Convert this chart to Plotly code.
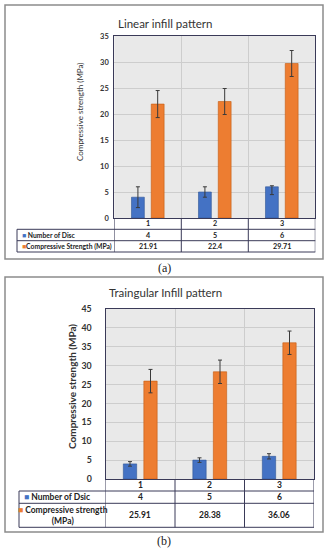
import plotly.graph_objects as go

# ---------------- data ----------------
categories = ["1", "2", "3"]

a_title = "Linear infill pattern"
a_discs = [4, 5, 6]
a_disc_err_plus = [2, 1, 0.2]
a_disc_err_minus = [2, 1, 1.5]
a_strength = [21.91, 22.4, 29.71]
a_strength_err = [2.6, 2.5, 2.5]
a_ticks = [0, 5, 10, 15, 20, 25, 30, 35]
a_row_labels = ["Number of Disc", "Compressive Strength (MPa)"]

b_title = "Traingular Infill pattern"
b_discs = [4, 5, 6]
b_disc_err = [0.6, 0.6, 0.7]
b_strength = [25.91, 28.38, 36.06]
b_strength_err = [3.1, 3.1, 3.1]
b_ticks = [0, 5, 10, 15, 20, 25, 30, 35, 40, 45]
b_row_labels = ["Number of Dsic", "Compressive strength<br>(MPa)"]

y_title = "Compressive strength (MPa)"

# ---------------- styling ----------------
W, H = 328, 550
BLUE = "#4472C4"
ORANGE = "#ED7D31"
LINE = "#3a3a58"
GRID = "#cdcdcd"
FONT = "Lato"


def px(x):
    return x / W


def py(y):
    return 1 - y / H


fig = go.Figure()

err_style = dict(color="#3a3a3a", thickness=1, width=2)

# chart (a)
fig.add_trace(go.Bar(x=categories, y=a_discs, xaxis="x", yaxis="y",
                     marker=dict(color=BLUE, line=dict(color="#2f5597", width=0.6)),
                     error_y=dict(type="data", symmetric=False, array=a_disc_err_plus,
                                  arrayminus=a_disc_err_minus, **err_style),
                     showlegend=False))
fig.add_trace(go.Bar(x=categories, y=a_strength, xaxis="x", yaxis="y",
                     marker=dict(color=ORANGE, line=dict(color="#c55a11", width=0.6)),
                     error_y=dict(type="data", array=a_strength_err, **err_style),
                     showlegend=False))
# chart (b)
fig.add_trace(go.Bar(x=categories, y=b_discs, xaxis="x2", yaxis="y2",
                     marker=dict(color=BLUE, line=dict(color="#2f5597", width=0.6)),
                     error_y=dict(type="data", array=b_disc_err, **err_style),
                     showlegend=False))
fig.add_trace(go.Bar(x=categories, y=b_strength, xaxis="x2", yaxis="y2",
                     marker=dict(color=ORANGE, line=dict(color="#c55a11", width=0.6)),
                     error_y=dict(type="data", array=b_strength_err, **err_style),
                     showlegend=False))

# geometry (pixels)
A = dict(left=114.3, right=315.3, top=36, bottom=218, rows=[229.3, 240.7, 252],
         tleft=17, frame=(5, 5, 323, 259), ytitle_x=80, ytitle_y=112, title_y=23,
         caption_y=268, font=7.2, lfont=6.8, tick=7.5, ytf=8, standoff=3)
B = dict(left=105.5, right=314, top=309, bottom=479, rows=[491, 503.3, 527.3],
         tleft=19, frame=(5, 277, 323, 532), ytitle_x=72, ytitle_y=387, title_y=292,
         caption_y=541, font=8.5, lfont=8.5, tick=8.8, ytf=10, standoff=11)

n_cat = len(categories)
common_x = dict(type="category", categoryorder="array", categoryarray=categories,
                range=[-0.5, n_cat - 0.5],
                showgrid=True, gridcolor=GRID, gridwidth=1,
                tickson="boundaries", showticklabels=False, ticks="",
                showline=True, linecolor=LINE, linewidth=1, mirror=True,
                fixedrange=True)
common_y = dict(showgrid=True, gridcolor=GRID, gridwidth=1, ticks="",
                showline=True, linecolor=LINE, linewidth=1, mirror=True,
                zeroline=False, fixedrange=True, automargin=False)

fig.update_layout(
    width=W, height=H, autosize=False,
    margin=dict(l=0, r=0, t=0, b=0, pad=0),
    paper_bgcolor="white",
    plot_bgcolor="#e9e9e9",
    barmode="group",
    bargap=0.41,
    bargroupgap=0.35,
    font=dict(family=FONT, color="#222"),
    xaxis=dict(domain=[px(A["left"]), px(A["right"])], anchor="y", **common_x),
    yaxis=dict(domain=[py(A["bottom"]), py(A["top"])], anchor="x", range=[0, 35],
               tickvals=a_ticks, ticktext=[f"<b>{t}</b>" for t in a_ticks],
               tickfont=dict(size=A["tick"], family=FONT, color="#333"),
               ticklabelstandoff=A["standoff"], **common_y),
    xaxis2=dict(domain=[px(B["left"]), px(B["right"])], anchor="y2", **common_x),
    yaxis2=dict(domain=[py(B["bottom"]), py(B["top"])], anchor="x2", range=[0, 45],
                tickvals=b_ticks, ticktext=[f"<b>{t}</b>" for t in b_ticks],
                tickfont=dict(size=B["tick"], family=FONT, color="#333"),
                ticklabelstandoff=B["standoff"], **common_y),
)

shapes = []
annotations = []


def ann(**kw):
    kw.setdefault("showarrow", False)
    kw.setdefault("xanchor", "center")
    kw.setdefault("yanchor", "middle")
    annotations.append(kw)


def build(G, xref, title, row_labels, discs, strength, caption, two_line):
    # outer frame
    x0, y0, x1, y1 = G["frame"]
    shapes.append(dict(type="rect", xref="paper", yref="paper",
                       x0=px(x0), x1=px(x1), y0=py(y0), y1=py(y1),
                       line=dict(color="#8c8c8c", width=1.5), layer="below"))
    # table horizontal lines
    r1, r2, r3 = G["rows"]
    for ry in (r1, r2, r3):
        shapes.append(dict(type="line", xref="paper", yref="paper",
                           x0=px(G["tleft"]), x1=px(G["right"]), y0=py(ry), y1=py(ry),
                           line=dict(color=LINE, width=1)))
    # label column left border
    shapes.append(dict(type="line", xref="paper", yref="paper",
                       x0=px(G["tleft"]), x1=px(G["tleft"]), y0=py(r1), y1=py(r3),
                       line=dict(color=LINE, width=1)))
    # column separators (category boundaries)
    for i in range(n_cat + 1):
        shapes.append(dict(type="line", xref=xref, yref="paper",
                           x0=i - 0.5, x1=i - 0.5, y0=py(G["bottom"]), y1=py(r3),
                           line=dict(color=LINE, width=1)))
    # title
    ann(text=title, xref="paper", yref="paper", x=px(165), y=py(G["title_y"]),
        font=dict(size=11.5, family=FONT, color="#333"))
    # y title
    ann(text=("<b>%s</b>" % y_title) if two_line else y_title,
        xref="paper", yref="paper", textangle=-90,
        x=px(G["ytitle_x"]), y=py(G["ytitle_y"]),
        font=dict(size=G["ytf"], family=FONT, color="#333"))
    # row centers
    c1 = (G["bottom"] + r1) / 2
    c2 = (r1 + r2) / 2
    c3 = (r2 + r3) / 2
    f = dict(size=G["font"], family=FONT, color="#222")
    lf = dict(size=G["lfont"], family=FONT, color="#222")
    for i, (cat, d, s) in enumerate(zip(categories, discs, strength)):
        ann(text=f"<b>{cat}</b>", xref=xref, yref="paper", x=i, y=py(c1), font=f)
        ann(text=f"<b>{d:g}</b>", xref=xref, yref="paper", x=i, y=py(c2), font=f)
        ann(text=f"<b>{s:g}</b>", xref=xref, yref="paper", x=i, y=py(c3), font=f)
    ann(text=f"<span style='color:{BLUE}'>■</span><b> {row_labels[0]}</b>",
        xref="paper", yref="paper", x=px(G["tleft"] + 2.5), y=py(c2),
        xanchor="left", font=lf)
    if two_line:
        ann(text=f"<span style='color:{ORANGE}'>■</span><b> {row_labels[1]}</b>",
            xref="paper", yref="paper", x=px((G["tleft"] + G["left"]) / 2 + 1), y=py(c3),
            align="center", font=lf)
    else:
        ann(text=f"<span style='color:{ORANGE}'>■</span><b>{row_labels[1]}</b>",
            xref="paper", yref="paper", x=px(G["tleft"] + 2.5), y=py(c3),
            xanchor="left", font=lf)
    # caption
    ann(text=caption, xref="paper", yref="paper", x=px(164), y=py(G["caption_y"]),
        font=dict(size=12, family="Liberation Serif", color="#222"))


build(A, "x", a_title, a_row_labels, a_discs, a_strength, "(a)", False)
build(B, "x2", b_title, b_row_labels, b_discs, b_strength, "(b)", True)

fig.update_layout(shapes=shapes, annotations=annotations)
fig.write_html("out.html", config=dict(displayModeBar=False),
               post_script="document.body.style.margin='0';document.body.style.overflow='hidden';")
